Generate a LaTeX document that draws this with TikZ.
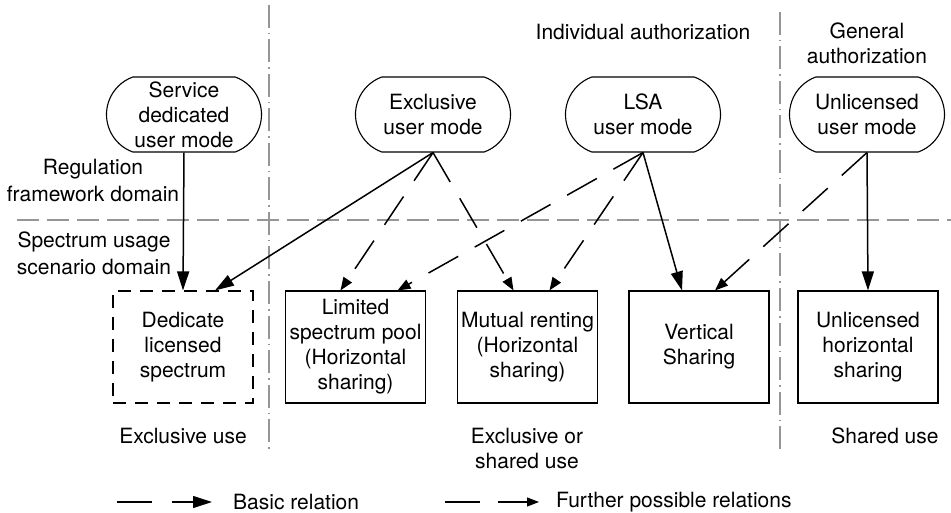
\documentclass[tikz,border=0pt]{standalone}
\usepackage{fontspec}
\setmainfont{TeX Gyre Heros}
\usetikzlibrary{arrows.meta,shapes.misc}
\definecolor{guide}{RGB}{150,150,150}
\tikzset{
  mode/.style={rounded rectangle, rounded rectangle arc length=140, draw, line width=1.1pt,
    minimum width=155pt, minimum height=75pt, inner sep=1pt, inner xsep=0pt, align=center},
  scen/.style={rectangle, draw, line width=1.1pt, minimum width=140pt, minimum height=112pt,
    inner sep=0pt, align=center},
  lbl/.style={align=center, inner sep=0pt},
  basic/.style={line width=1.5pt, -{Triangle[length=19pt,width=12pt]}},
  further/.style={line width=1.5pt, dash pattern=on 34pt off 19pt, -{Triangle[length=13pt,width=10pt]}},
  hsplit/.style={guide, line width=2.2pt, dash pattern=on 22pt off 8pt},
  vsplit/.style={guide, line width=2pt, dash pattern=on 23pt off 5pt on 1.5pt off 5pt},
}
\begin{document}
\begin{tikzpicture}[x=1pt, y=-1pt, font=\fontsize{21}{25}\selectfont]
\useasboundingbox (0,0) rectangle (951,513);

% domain separators
\draw[hsplit] (17,220) -- (951,220);
\draw[vsplit] (269,5) -- (269,450);
\draw[vsplit] (780,12) -- (780,452);

% authorization headings and domain labels
\node[lbl] (ind) at (643,32) {Individual authorization};
\node[lbl] (gen) at (867,43) {General\\authorization};
\node[lbl, font=\fontsize{21}{27}\selectfont] (reg) at (93,181) {Regulation\\framework domain};
\node[lbl, font=\fontsize{21}{27}\selectfont] (spu) at (94,253) {Spectrum usage\\scenario domain};

% user modes
\node[mode] (sdm) at (184,114.5) {Service\\dedicated\\user mode};
\node[mode] (exm) at (433,114.5) {Exclusive\\user mode};
\node[mode] (lsa) at (643,114.5) {LSA\\user mode};
\node[mode] (unm) at (867,114.5) {Unlicensed\\user mode};

% spectrum usage scenarios
\node[scen, dash pattern=on 13pt off 9pt] (dls) at (183,347) {Dedicate\\licensed\\spectrum};
\node[scen] (lsp) at (355.5,347) {Limited\\spectrum pool\\(Horizontal\\sharing)};
\node[scen] (mur) at (527.5,347) {Mutual renting\\(Horizontal\\sharing)};
\node[scen] (vsh) at (699,347) {Vertical\\Sharing};
\node[scen] (uhs) at (868,347) {Unlicensed\\horizontal\\sharing};

% usage categories
\node[lbl] (exu) at (183,436) {Exclusive use};
\node[lbl] (eos) at (527,449) {Exclusive or\\shared use};
\node[lbl] (shu) at (885,436) {Shared use};

% basic relations
\draw[basic] (sdm.south) -- (dls.north);
\draw[basic] (exm.south) -- ([xshift=32pt]dls.north);
\draw[basic] (lsa.south) -- ([xshift=-17pt]vsh.north);
\draw[basic] (unm.south) -- (uhs.north);

% further possible relations
\draw[further] (exm.south) -- ([xshift=-15pt]lsp.north);
\draw[further] (exm.south) -- ([xshift=-14pt]mur.north);
\draw[further] (lsa.south) -- ([xshift=42pt]lsp.north);
\draw[further] (lsa.south) -- ([xshift=22pt]mur.north);
\draw[further] (unm.south) -- ([xshift=16pt]vsh.north);

% legend
\coordinate (b1) at (117,502); \coordinate (b2) at (152,502);
\coordinate (b3) at (172,502); \coordinate (b4) at (212,502);
\coordinate (f1) at (445,502); \coordinate (f2) at (480,502);
\coordinate (f3) at (498,502); \coordinate (f4) at (539,502);
\draw[line width=1.1pt] (b1) -- (b2);
\draw[line width=1.1pt, -{Triangle[length=19pt,width=12pt]}] (b3) -- (b4);
\node[anchor=west, inner sep=0pt] (lb) at (233,502) {Basic relation};
\draw[line width=1.1pt] (f1) -- (f2);
\draw[line width=1.1pt, -{Triangle[length=12pt,width=9pt]}] (f3) -- (f4);
\node[anchor=west, inner sep=0pt] (lf) at (556,502) {Further possible relations};
\end{tikzpicture}
\end{document}
